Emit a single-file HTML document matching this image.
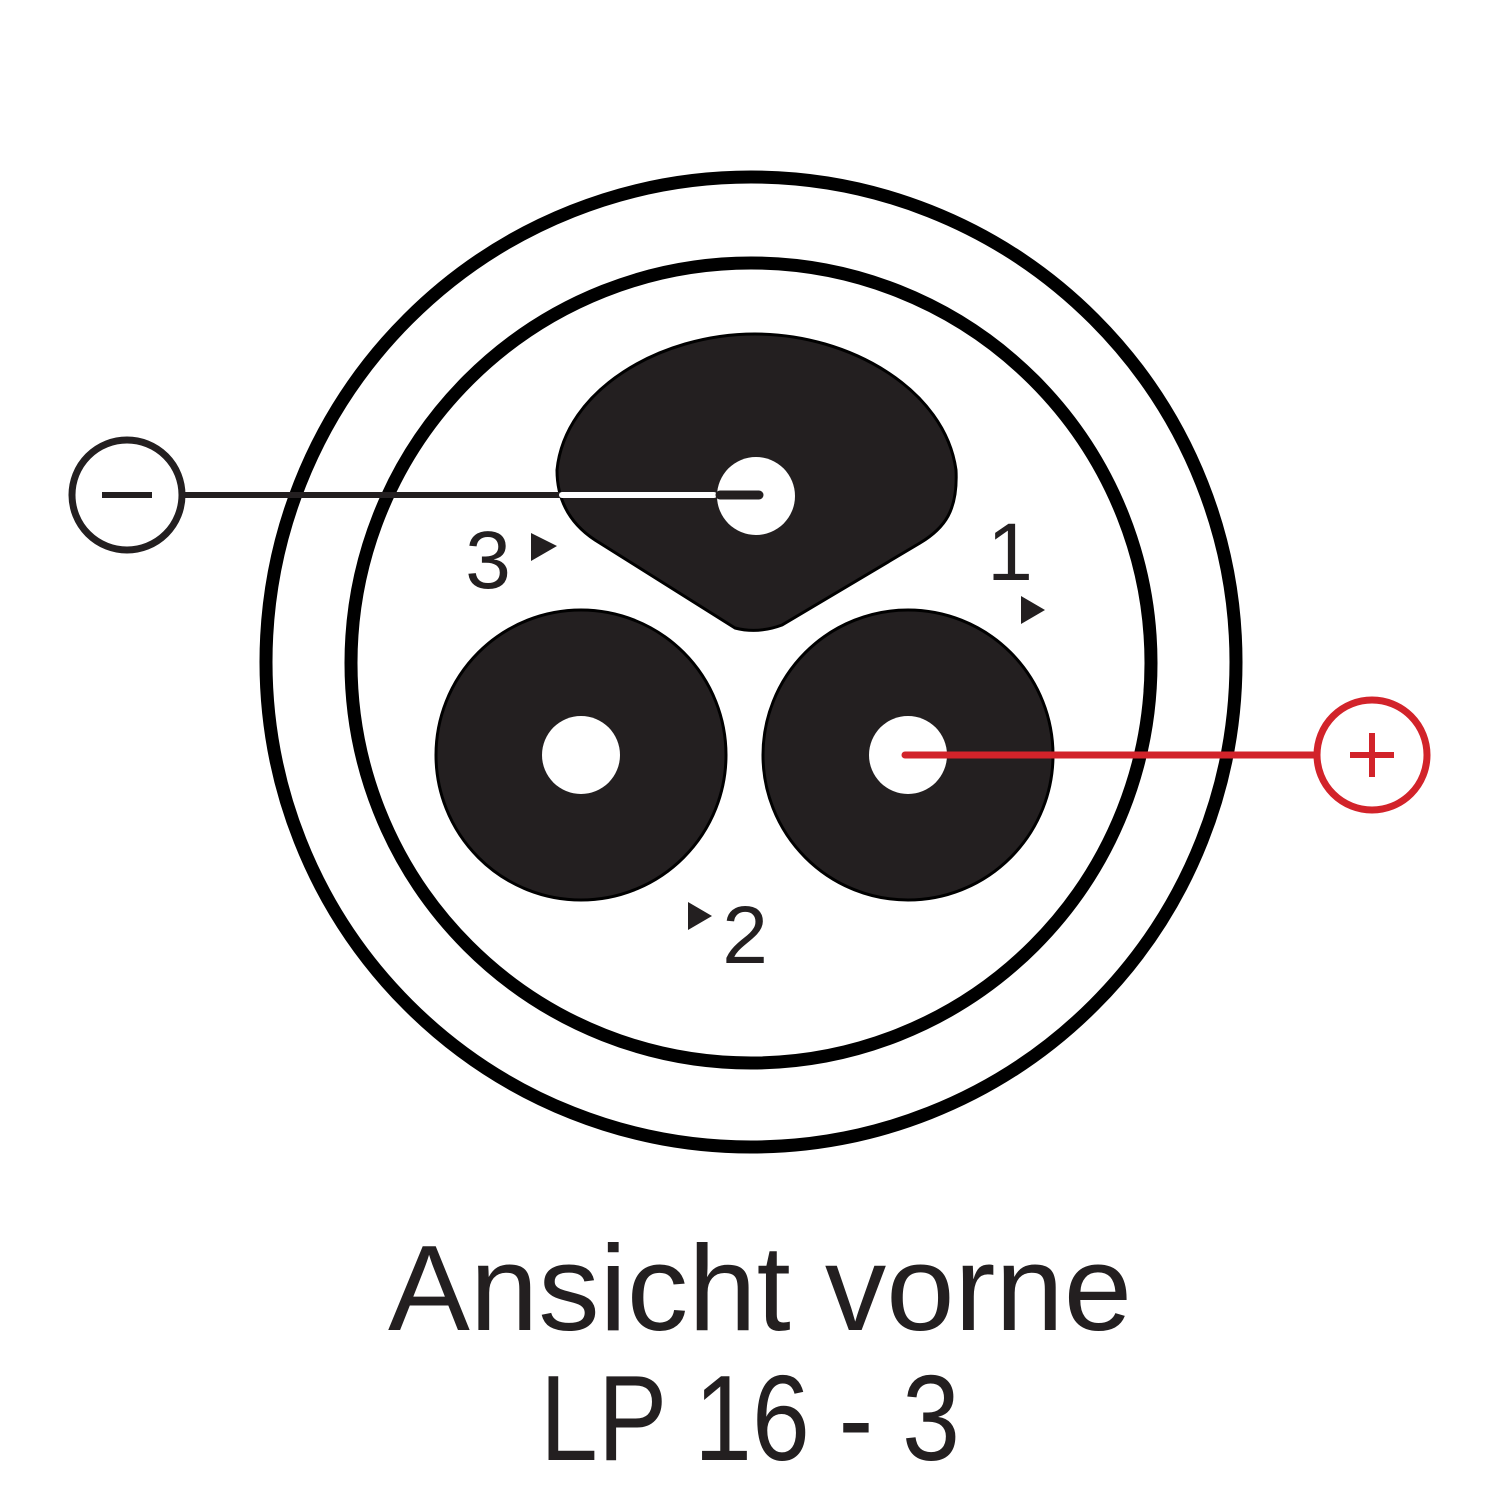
<!DOCTYPE html>
<html><head><meta charset="utf-8"><style>
html,body{margin:0;padding:0;background:#fff;width:1500px;height:1500px;overflow:hidden}
</style></head><body>
<svg width="1500" height="1500" viewBox="0 0 1500 1500" xmlns="http://www.w3.org/2000/svg">
<rect width="1500" height="1500" fill="#fff"/>
<circle cx="751" cy="662" r="485" fill="none" stroke="#000" stroke-width="13"/>
<circle cx="751" cy="663" r="400" fill="none" stroke="#000" stroke-width="13"/>
<path d="M735,628 L595,540 Q557,515 557,470 C565,390 660,334 755,334 C850,334 945,390 956,470 C958,510 945,528 920,543 L782,625 Q758,634 735,628 Z" fill="#231f20" stroke="#000" stroke-width="3"/>
<circle cx="581" cy="755" r="145" fill="#231f20" stroke="#000" stroke-width="3"/>
<circle cx="908" cy="755" r="145" fill="#231f20" stroke="#000" stroke-width="3"/>
<circle cx="756" cy="496" r="39" fill="#fff"/>
<circle cx="581" cy="755" r="39" fill="#fff"/>
<circle cx="908" cy="755" r="39" fill="#fff"/>
<line x1="182" y1="495" x2="560" y2="495" stroke="#231f20" stroke-width="6"/>
<line x1="562" y1="495" x2="714" y2="495" stroke="#fff" stroke-width="6" stroke-linecap="round"/>
<line x1="720" y1="495" x2="759" y2="495" stroke="#231f20" stroke-width="9" stroke-linecap="round"/>
<circle cx="127" cy="495" r="55" fill="#fff" stroke="#231f20" stroke-width="7"/>
<line x1="102" y1="495" x2="152" y2="495" stroke="#231f20" stroke-width="6"/>
<line x1="905" y1="755" x2="1317" y2="755" stroke="#d2232a" stroke-width="7" stroke-linecap="round"/>
<circle cx="1372" cy="755" r="55" fill="#fff" stroke="#d2232a" stroke-width="7"/>
<line x1="1350" y1="755" x2="1394" y2="755" stroke="#d2232a" stroke-width="6"/>
<line x1="1372" y1="733" x2="1372" y2="777" stroke="#d2232a" stroke-width="6"/>
<g font-family="Liberation Sans, sans-serif" fill="#231f20">
<text x="488" y="588" font-size="82" text-anchor="middle">3</text>
<text x="1010" y="580" font-size="82" text-anchor="middle">1</text>
<text x="745" y="963" font-size="82" text-anchor="middle">2</text>
<text x="388" y="1330" font-size="122" textLength="744" lengthAdjust="spacingAndGlyphs">Ansicht vorne</text>
<text x="540" y="1460" font-size="122" textLength="420" lengthAdjust="spacingAndGlyphs">LP 16 - 3</text>
</g>
<polygon points="531,533 557,546 531,561" fill="#231f20"/>
<polygon points="1021,596 1045,610 1021,624" fill="#231f20"/>
<polygon points="688,902 712,916 688,930" fill="#231f20"/>
</svg>
</body></html>
